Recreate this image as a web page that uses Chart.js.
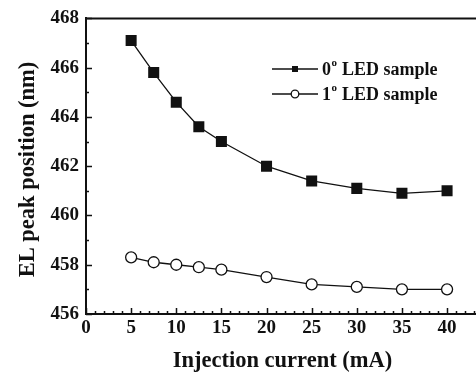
<!DOCTYPE html>
<html>
<head>
<meta charset="utf-8">
<script src="https://cdn.jsdelivr.net/npm/chart.js@4.4.1/dist/chart.umd.min.js"></script>
<style>
  html, body { margin: 0; padding: 0; background: #fff; overflow: hidden; width: 476px; height: 376px; }
</style>
</head>
<body>
<canvas id="myChart" width="500" height="376"></canvas>
<script>
// data
const current = [5, 7.5, 10, 12.5, 15, 20, 25, 30, 35, 40];          // mA
const peak_0deg = [467.1, 465.8, 464.6, 463.6, 463.0, 462.0, 461.4, 461.1, 460.9, 461.0];
const peak_1deg = [458.3, 458.1, 458.0, 457.9, 457.8, 457.5, 457.2, 457.1, 457.0, 457.0];
const legend_angle = ['0', '1'];   // followed by superscript "o"
const legend_rest = ' LED sample';
const x_title = 'Injection current (mA)';
const y_title = 'EL peak position (nm)';

const serif = '"Liberation Serif", "Times New Roman", serif';

// inward ticks, top frame, axis titles and the legend with superscripts
const framePlugin = {
  id: 'frame',
  afterDraw(chart) {
    const ctx = chart.ctx;
    const a = chart.chartArea;
    const xs = chart.scales.x, ys = chart.scales.y;
    ctx.save();
    ctx.strokeStyle = '#111';
    ctx.lineWidth = 2;
    ctx.beginPath();
    ctx.moveTo(a.left - 1, a.top);
    ctx.lineTo(a.right, a.top);
    ctx.lineTo(a.right, a.bottom);
    ctx.stroke();

    ctx.lineWidth = 1.5;
    ctx.beginPath();
    for (let v = xs.min; v <= xs.max; v += 1) {
      const px = Math.round(xs.getPixelForValue(v)) + 0.5;
      const len = v % 5 === 0 ? 6 : 3;
      ctx.moveTo(px, a.bottom);
      ctx.lineTo(px, a.bottom - len);
    }
    for (let v = ys.min; v <= ys.max; v += 1) {
      const py = Math.round(ys.getPixelForValue(v)) + 0.5;
      const len = v % 2 === 0 ? 6 : 3;
      ctx.moveTo(a.left, py);
      ctx.lineTo(a.left + len, py);
    }
    ctx.stroke();

    // axis titles
    ctx.fillStyle = '#111';
    ctx.font = 'bold 22.5px ' + serif;
    ctx.textAlign = 'center';
    ctx.textBaseline = 'alphabetic';
    ctx.fillText(x_title, 282.5, 367);
    ctx.save();
    ctx.translate(33.5, 169.5);
    ctx.rotate(-Math.PI / 2);
    ctx.fillText(y_title, 0, 0);
    ctx.restore();
    ctx.textAlign = 'left';

    // legend
    const rows = [69, 94];
    chart.data.datasets.forEach((ds, i) => {
      const y = rows[i];
      ctx.strokeStyle = '#111';
      ctx.lineWidth = 1.3;
      ctx.beginPath();
      ctx.moveTo(272, y);
      ctx.lineTo(318, y);
      ctx.stroke();
      if (i === 0) {
        ctx.fillStyle = '#111';
        ctx.fillRect(292, y - 3, 6, 6);
      } else {
        ctx.fillStyle = '#fff';
        ctx.beginPath();
        ctx.arc(295, y, 3.8, 0, Math.PI * 2);
        ctx.fill();
        ctx.stroke();
      }
      ctx.fillStyle = '#111';
      ctx.textBaseline = 'middle';
      ctx.font = 'bold 18px ' + serif;
      ctx.fillText(legend_angle[i], 322, y + 1);
      let xo = 322 + ctx.measureText(legend_angle[i]).width;
      ctx.font = 'bold 11px ' + serif;
      ctx.fillText('o', xo + 0.5, y - 6);
      xo += ctx.measureText('o').width + 1;
      ctx.font = 'bold 18px ' + serif;
      ctx.fillText(legend_rest, xo, y + 1);
    });
    ctx.restore();
  }
};

const data = {
  datasets: [
    {
      label: legend_angle[0] + '° LED sample',
      data: current.map((c, i) => ({ x: c, y: peak_0deg[i] })),
      borderColor: '#111',
      backgroundColor: '#111',
      borderWidth: 1.3,
      pointStyle: 'rect',
      pointRadius: 7.8,
      pointBorderWidth: 0,
      tension: 0
    },
    {
      label: legend_angle[1] + '° LED sample',
      data: current.map((c, i) => ({ x: c, y: peak_1deg[i] })),
      borderColor: '#111',
      backgroundColor: '#fff',
      borderWidth: 1.3,
      pointStyle: 'circle',
      pointRadius: 5.5,
      pointBorderWidth: 1.3,
      tension: 0
    }
  ]
};

const config = {
  type: 'line',
  data,
  options: {
    responsive: false,
    animation: false,
    layout: { padding: { top: 17, right: 2, left: 0, bottom: 0 } },
    plugins: {
      legend: { display: false },
      tooltip: { enabled: false }
    },
    scales: {
      x: {
        type: 'linear',
        min: 0,
        max: 45,
        afterFit(scale) { scale.height = 62; },
        ticks: {
          stepSize: 5,
          color: '#111',
          padding: 3,
          font: { family: serif, size: 19, weight: 'bold' },
          callback: v => (v <= 40 ? v : '')
        },
        grid: { display: false, drawTicks: false },
        border: { display: true, color: '#111', width: 2 }
      },
      y: {
        type: 'linear',
        min: 456,
        max: 468,
        afterFit(scale) { scale.width = 86; },
        ticks: {
          stepSize: 2,
          color: '#111',
          padding: 7,
          font: { family: serif, size: 19, weight: 'bold' }
        },
        grid: { display: false, drawTicks: false },
        border: { display: true, color: '#111', width: 2 }
      }
    }
  },
  plugins: [framePlugin]
};

const ctx = document.getElementById('myChart');
const myChart = new Chart(ctx, config);
</script>
</body>
</html>
